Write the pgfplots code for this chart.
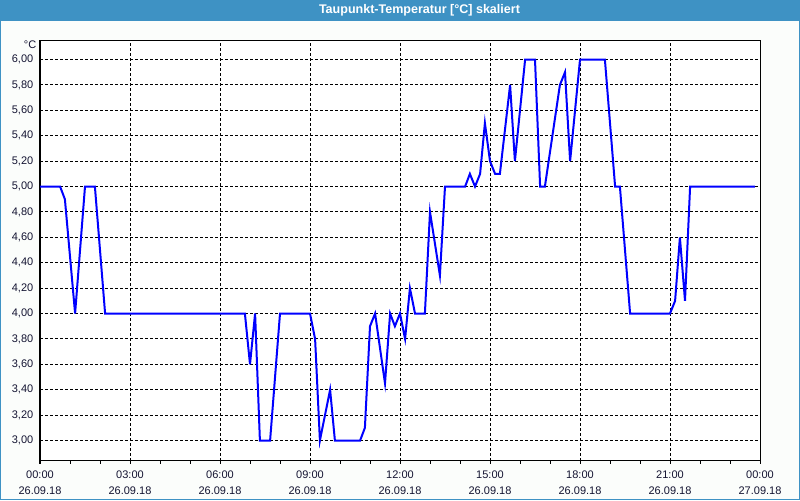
\documentclass[border=0pt]{standalone}
\usepackage{pgfplots}
\pgfplotsset{compat=1.18}
\usepackage{fontspec}
\setmainfont{Liberation Sans}
\definecolor{titlecol}{RGB}{62,146,196}
\definecolor{bgcol}{RGB}{251,253,251}
\definecolor{labcol}{RGB}{20,20,50}
\begin{document}
\begin{tikzpicture}[x=1pt,y=1pt]
\fill[bgcol] (0,0) rectangle (600,375);
\fill[titlecol] (0,359.25) rectangle (600,375);
\draw[titlecol, line width=0.75pt] (0.375,0.375) rectangle (599.625,374.625);
\node[text=white, font=\fontsize{9.4pt}{10pt}\selectfont\bfseries] at (314.6,367.3) {Taupunkt-Temperatur [°C] skaliert};
\begin{axis}[
  at={(30pt,29.625pt)}, anchor=south west,
  scale only axis, width=540pt, height=315pt,
  xmin=0, xmax=24, ymin=2.8425, ymax=6.15,
  axis background/.style={fill=white},
  axis line style={black, line width=0.75pt},
  xtick={0,3,6,9,12,15,18,21,24},
  xticklabels={{00:00\\26.09.18},{03:00\\26.09.18},{06:00\\26.09.18},{09:00\\26.09.18},{12:00\\26.09.18},{15:00\\26.09.18},{18:00\\26.09.18},{21:00\\26.09.18},{00:00\\27.09.18}},
  minor x tick num=2,
  tick align=outside,
  xtick pos=bottom,
  major tick length=2.25pt, minor tick length=2.25pt,
  every tick/.style={black, line width=0.75pt},
  ytick={3,3.2,3.4,3.6,3.8,4,4.2,4.4,4.6,4.8,5,5.2,5.4,5.6,5.8,6},
  ytick style={draw=none},
  ytick pos=left,
  grid=major,
  major grid style={black, line width=0.75pt, dash pattern=on 2.25pt off 1.5pt},
  /pgf/number format/assume math mode=true,
  /pgf/number format/use comma,
  /pgf/number format/fixed,
  /pgf/number format/fixed zerofill,
  /pgf/number format/precision=2,
  yticklabel style={inner sep=0pt, anchor=east, xshift=-2.6pt, text=labcol, font=\fontsize{8.25pt}{10pt}\selectfont},
  xticklabel style={align=center, inner sep=0pt, anchor=north, yshift=-5.4pt, text=labcol, font=\fontsize{8.25pt}{12pt}\selectfont},
  clip=true,
]
\addplot[color={rgb,255:red,0;green,0;blue,255}, line width=1.5pt, line join=miter, mark=none] coordinates {
(0,5.0) (0.67,5.0) (0.83,4.9) (1.17,4.0) (1.5,5.0) (1.83,5.0) (2.17,4.0)
(6.83,4.0) (7.0,3.6) (7.17,4.0) (7.33,3.0) (7.67,3.0) (8.0,4.0) (9.0,4.0)
(9.17,3.8) (9.33,3.0) (9.67,3.4) (9.83,3.0) (10.67,3.0) (10.83,3.1) (11.0,3.9)
(11.17,4.0) (11.5,3.45) (11.67,4.0) (11.83,3.9) (12.0,4.0) (12.17,3.8) (12.33,4.2)
(12.5,4.0) (12.83,4.0) (13.0,4.8) (13.33,4.3) (13.5,5.0) (14.17,5.0) (14.33,5.1)
(14.5,5.0) (14.67,5.1) (14.83,5.5) (15.0,5.2) (15.17,5.1) (15.33,5.1) (15.67,5.8)
(15.83,5.2) (16.17,6.0) (16.5,6.0) (16.67,5.0) (16.83,5.0) (17.33,5.8) (17.5,5.9)
(17.67,5.2) (18.0,6.0) (18.83,6.0) (19.17,5.0) (19.33,5.0) (19.67,4.0) (21.0,4.0)
(21.17,4.1) (21.33,4.6) (21.5,4.1) (21.67,5.0) (23.83,5.0)
};
\end{axis}
\node[anchor=east, inner sep=0pt, text=labcol, font=\fontsize{8.25pt}{10pt}\selectfont] at (27.4,341.5) {°C};
\end{tikzpicture}
\end{document}
